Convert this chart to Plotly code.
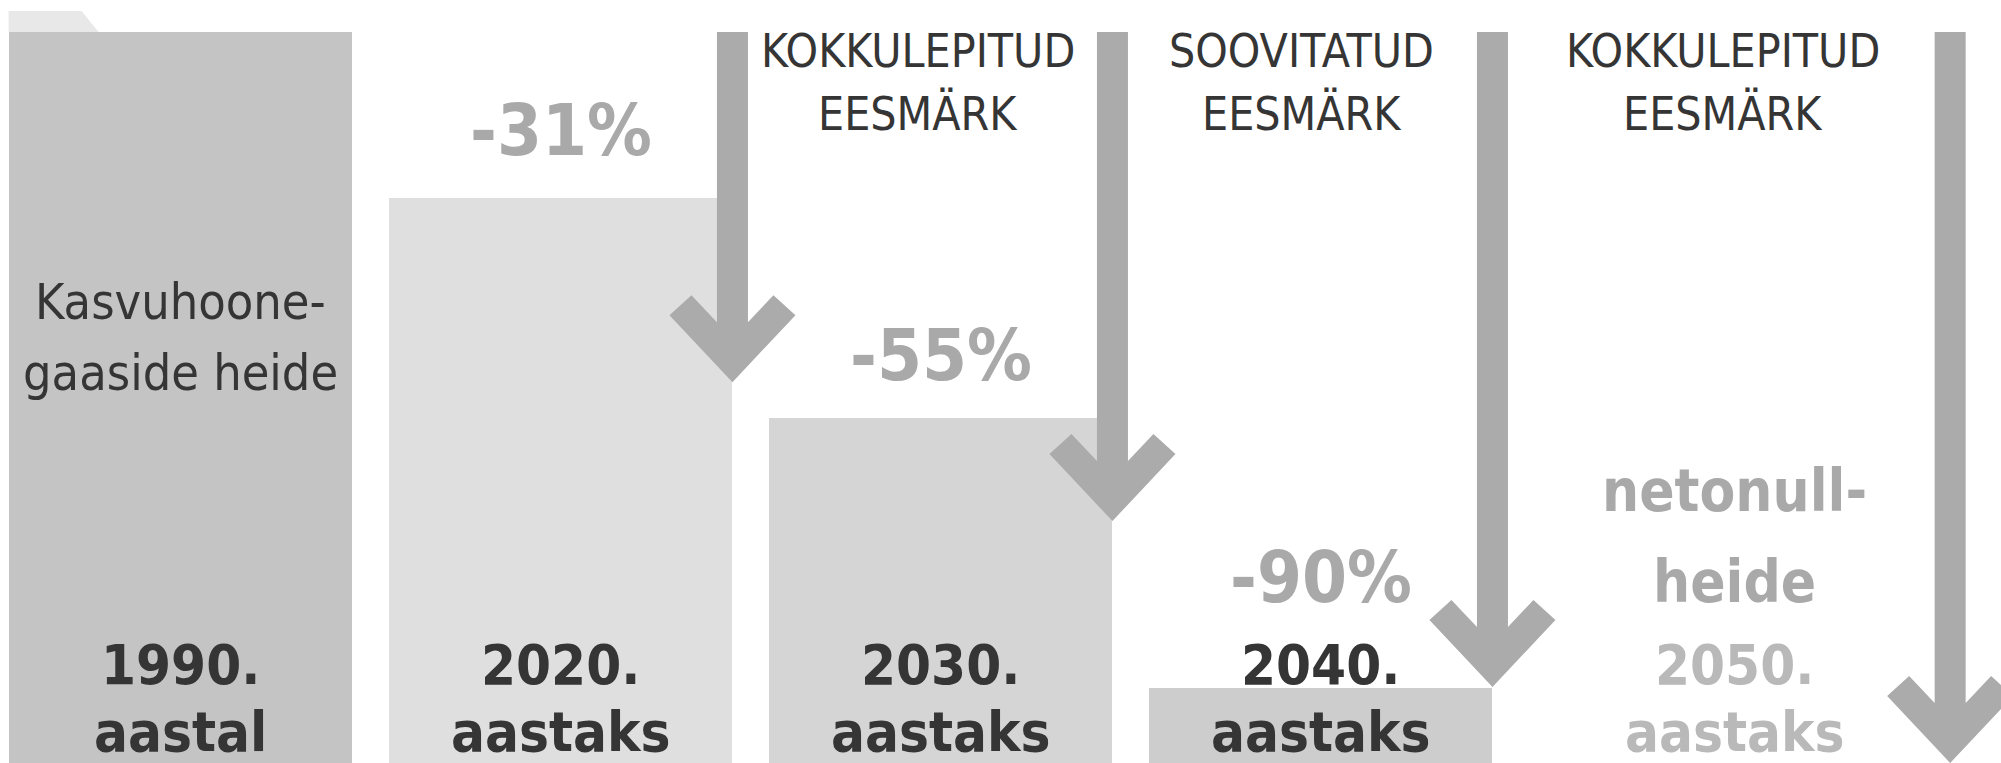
import plotly.graph_objects as go

# ---------------- data ----------------
categories = ["1990.", "2020.", "2030.", "2040.", "2050."]
year_suffix = ["aastal", "aastaks", "aastaks", "aastaks", "aastaks"]
# emission level as drawn in the infographic (1990 = 100)
bar_values = [100, 77.3, 47.2, 10.3, 0]
reduction_labels = ["", "-31%", "-55%", "-90%", ""]
# level reached by the tip of each target arrow
arrow_tip_values = [52.1, 33.1, 10.4, 0.0]
target_line1 = ["KOKKULEPITUD", "SOOVITATUD", "KOKKULEPITUD"]
target_line2 = ["EESMÄRK", "EESMÄRK", "EESMÄRK"]
first_bar_text = ["Kasvuhoone-", "gaaside heide"]
net_zero_text = ["netonull-", "heide"]

# ---------------- layout constants ----------------
W, H = 2001, 763
PX_X = 380.0          # pixels per category step
X0_PX = 180.5         # pixel of first category centre
PX_Y = 7.31           # pixels per value unit
XR = [-X0_PX / PX_X, (W - X0_PX) / PX_X]
YR = [0, H / PX_Y]
BAR_W = 0.905
ARROW_X = [1.4525, 2.4525, 3.4525, 4.657]

bar_colors = ["#c4c4c4", "#dfdfdf", "#d5d5d5", "#cdcdcd", "#ffffff"]
ARROW_C = "#ababab"
DARK = "#353535"
MID = "#a9a9a9"
LIGHT = "#b9b9b9"
FONT = "Noto Sans Condensed, DejaVu Sans Condensed, Liberation Sans Narrow, Roboto, sans-serif"


def dx(p):
    return p / PX_X


def dy(p):
    return p / PX_Y


def py(pixel_from_top):
    return (H - pixel_from_top) / PX_Y


fig = go.Figure()

fig.add_trace(go.Bar(
    x=list(range(len(categories))), y=bar_values, width=BAR_W,
    marker=dict(color=bar_colors, line=dict(width=0)),
    hoverinfo="skip", showlegend=False,
))

# folder tab on top of first bar
left0 = 0 - BAR_W / 2
top0 = bar_values[0]
fig.add_trace(go.Scatter(
    x=[left0, left0 + dx(73), left0 + dx(90), left0, left0],
    y=[top0 + dy(21), top0 + dy(21), top0, top0, top0 + dy(21)],
    fill="toself", fillcolor="#e8e8e8", mode="lines", line=dict(width=0),
    hoverinfo="skip", showlegend=False,
))

# target arrows (chevron heads)
shaft_top = bar_values[0]
for ax, tip in zip(ARROW_X, arrow_tip_values):
    pts = [(0, 0), (63, 67), (41, 87), (15.5, 60)]
    xs = [ax + dx(p[0]) for p in pts]
    ys = [tip + dy(p[1]) for p in pts]
    xs += [ax + dx(15.5), ax - dx(15.5)]
    ys += [shaft_top, shaft_top]
    for p in reversed(pts[1:]):
        xs.append(ax - dx(p[0]))
        ys.append(tip + dy(p[1]))
    xs.append(xs[0])
    ys.append(ys[0])
    fig.add_trace(go.Scatter(
        x=xs, y=ys, fill="toself", fillcolor=ARROW_C, mode="lines",
        line=dict(width=0), hoverinfo="skip", showlegend=False,
    ))

ann = []


def text(x, ypix, s, size, color, bold=False):
    ann.append(dict(
        x=x, y=py(ypix), xref="x", yref="y", text=s, showarrow=False,
        xanchor="center", yanchor="middle",
        font=dict(family=FONT, size=size, color=color,
                  weight="bold" if bold else "normal"),
    ))


# year labels
year_x = [0, 1, 2, 3, 4.09]
for i, (c, s) in enumerate(zip(categories, year_suffix)):
    col = LIGHT if i == 4 else DARK
    text(year_x[i], 664, c, 56, col, True)
    text(year_x[i], 731, s, 56, col, True)

# first bar description
text(0, 302, first_bar_text[0], 50, DARK)
text(0, 373, first_bar_text[1], 50, DARK)

# reduction labels
lab_y = [0, 130, 355, 577, 0]
for i, s in enumerate(reduction_labels):
    if s:
        text(i, lab_y[i], s, 72, MID, True)

# net zero
text(4.09, 491, net_zero_text[0], 58, MID, True)
text(4.09, 582, net_zero_text[1], 58, MID, True)

# target headers
hdr_x = [1.94, 2.95, 4.06]
for hx, a, b in zip(hdr_x, target_line1, target_line2):
    text(hx, 51, a, 46, DARK)
    text(hx, 114, b, 46, DARK)

fig.update_layout(
    width=W, height=H,
    margin=dict(l=0, r=0, t=0, b=0),
    paper_bgcolor="white", plot_bgcolor="white",
    xaxis=dict(range=XR, visible=False, fixedrange=True),
    yaxis=dict(range=YR, visible=False, fixedrange=True),
    annotations=ann, showlegend=False, bargap=0,
)

fig.write_html(
    "out.html",
    config={"displayModeBar": False},
    post_script="document.body.style.margin='0';document.body.style.overflow='hidden';",
)
